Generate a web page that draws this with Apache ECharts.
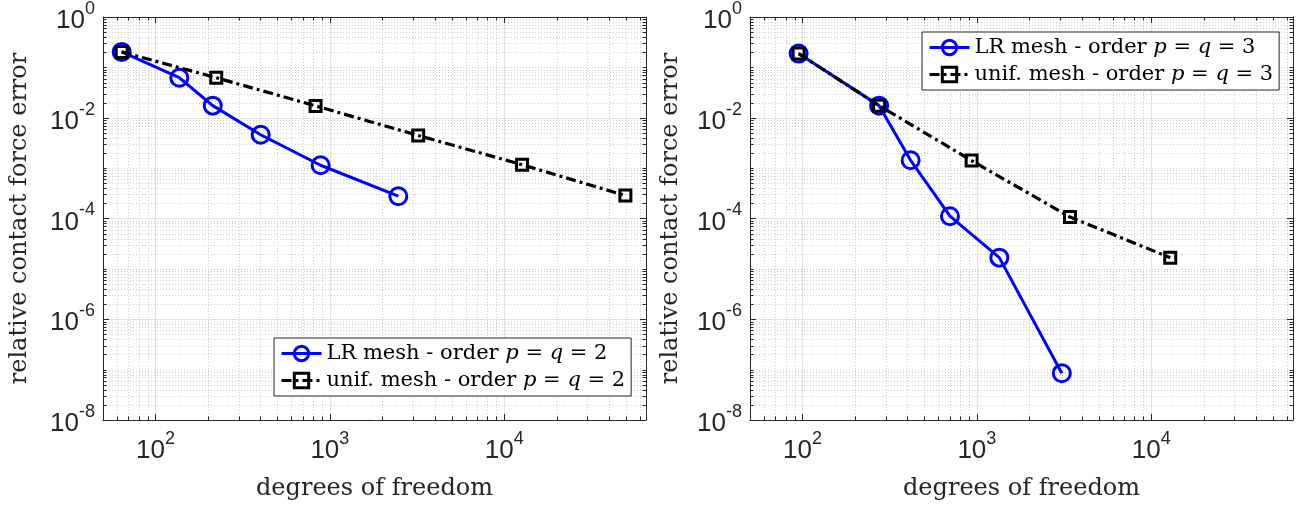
<!DOCTYPE html>
<html><head><meta charset="utf-8">
<script src="https://cdn.jsdelivr.net/npm/echarts@6/dist/echarts.min.js"></script>
<style>html,body{margin:0;padding:0;background:#fff}#c{width:1306px;height:508px}</style>
</head><body><div id="c"></div>
<script>
// ---------------- data ----------------
const lrP2Dof = [64, 137, 213, 401, 885, 2470];
const lrP2Err = [0.203, 0.0623, 0.0174, 0.00459, 0.00114, 2.77e-4];
const unP2Dof = [64, 223, 828, 3210, 12650, 49500];
const unP2Err = [0.203, 0.0623, 0.0172, 0.00445, 0.00117, 2.86e-4];
const lrP3Dof = [95, 275, 417, 701, 1345, 3070];
const lrP3Err = [0.188, 0.0174, 0.00143, 1.11e-4, 1.67e-5, 8.5e-8];
const unP3Dof = [95, 275, 933, 3420, 12850];
const unP3Err = [0.188, 0.0174, 0.00141, 1.07e-4, 1.67e-5];
const seriesNames = ['LR mesh - order p = q = 2', 'unif. mesh - order p = q = 2',
                     'LR mesh - order p = q = 3', 'unif. mesh - order p = q = 3'];
const xTitle = 'degrees of freedom';
const yTitle = 'relative contact force error';
const xMin = 50, xMax = 65000, yMin = 1e-8, yMax = 1;
const xMajor = [1e2, 1e3, 1e4];
const yMajor = [1e-8, 1e-6, 1e-4, 1e-2, 1];

// minor tick positions (decorations of the log axes)
const xMinor = [];
for (let e = 1; e <= 4; e++) for (let m = 2; m <= 9; m++) { const v = m * Math.pow(10, e); if (v > xMin && v < xMax) xMinor.push(v); }
const yMinor = [];
for (let e = -8; e < 0; e++) { for (let m = 2; m <= 9; m++) yMinor.push(m * Math.pow(10, e)); if ((e % 2) !== 0) yMinor.push(Math.pow(10, e)); }

const zip = (a, b) => a.map((v, i) => [v, b[i]]);
const AX = '#262626';
const SANS = 'Liberation Sans, Arial, Helvetica, sans-serif';
const SERIF = 'DejaVu Serif, serif';

function powLabel(v) {
  const e = Math.log10(v);
  const r = Math.round(e);
  if (Math.abs(e - r) > 1e-6) return '';
  return '{b|10}{s|' + r + '}';
}
const labelRich = {
  b: { fontFamily: SANS, fontSize: 26, color: AX, lineHeight: 34, verticalAlign: 'bottom' },
  s: { fontFamily: SANS, fontSize: 18, color: AX, lineHeight: 34, verticalAlign: 'top' }
};

function legendFmt(name) {
  const m = name.match(/^(.*order )p = q = (\d)$/);
  return '{n|' + m[1] + '}{i|p}{n| = }{i|q}{n| = ' + m[2] + '}';
}

function decor(params, api) {
  const cs = params.coordSys;
  const L = cs.x, T = cs.y, R = cs.x + cs.width, B = cs.y + cs.height;
  const ch = [];
  const ln = (x1, y1, x2, y2, st) => ch.push({ type: 'line', shape: { x1, y1, x2, y2 }, style: st, silent: true });
  const minorSt = { stroke: '#cfcfcf', lineWidth: 1, lineDash: [1, 2] };
  const tickSt = { stroke: AX, lineWidth: 1 };
  const px = v => Math.round(api.coord([v, yMax])[0]) + 0.5;
  const py = v => Math.round(api.coord([xMin, v])[1]) + 0.5;
  xMinor.forEach(v => { const x = px(v); ln(x, T, x, B, minorSt); });
  yMinor.forEach(v => { const y = py(v); ln(L, y, R, y, minorSt); });
  xMinor.forEach(v => { const x = px(v); ln(x, B, x, B - 3.5, tickSt); ln(x, T, x, T + 3.5, tickSt); });
  yMinor.forEach(v => { const y = py(v); ln(L, y, L + 3.5, y, tickSt); ln(R, y, R - 3.5, y, tickSt); });
  xMajor.forEach(v => { const x = px(v); ln(x, B, x, B - 6, tickSt); ln(x, T, x, T + 6, tickSt); });
  yMajor.forEach(v => { const y = py(v); ln(L, y, L + 6, y, tickSt); ln(R, y, R - 6, y, tickSt); });
  return { type: 'group', children: ch };
}

const grids = [
  { left: 103, top: 15, width: 543, height: 405 },
  { left: 750, top: 15, width: 543, height: 405 }
];
const xAxes = [], yAxes = [];
grids.forEach((g, gi) => {
  xAxes.push({
    type: 'log', logBase: 10, gridIndex: gi, min: xMin, max: xMax, position: 'bottom',
    name: xTitle, nameLocation: 'middle', nameGap: 57,
    nameTextStyle: { fontFamily: SERIF, fontSize: 24, color: AX },
    axisLine: { show: true, lineStyle: { color: AX, width: 1 } },
    axisTick: { show: false },
    axisLabel: { formatter: powLabel, rich: labelRich, margin: 10, showMinLabel: false, showMaxLabel: false, hideOverlap: false },
    splitLine: { show: true, lineStyle: { color: '#e2e2e2', width: 1 } },
    minorTick: { show: false }, minorSplitLine: { show: false }
  });
  xAxes.push({
    type: 'log', logBase: 10, gridIndex: gi, min: xMin, max: xMax, position: 'top',
    axisLine: { show: true, lineStyle: { color: AX, width: 1 } },
    axisTick: { show: false }, axisLabel: { show: false }, splitLine: { show: false }
  });
  yAxes.push({
    type: 'log', logBase: 10, gridIndex: gi, min: yMin, max: yMax, interval: 2, position: 'left',
    name: yTitle, nameLocation: 'middle', nameGap: gi === 0 ? 71 : 67, nameRotate: 90,
    nameTextStyle: { fontFamily: SERIF, fontSize: 24, color: AX },
    axisLine: { show: true, lineStyle: { color: AX, width: 1 } },
    axisTick: { show: false },
    axisLabel: { formatter: powLabel, rich: labelRich, margin: 8, hideOverlap: false },
    splitLine: { show: true, lineStyle: { color: '#e2e2e2', width: 1 } }
  });
  yAxes.push({
    type: 'log', logBase: 10, gridIndex: gi, min: yMin, max: yMax, interval: 2, position: 'right',
    axisLine: { show: true, lineStyle: { color: AX, width: 1 } },
    axisTick: { show: false }, axisLabel: { show: false }, splitLine: { show: false }
  });
});

function lrSeries(name, gi, dof, err) {
  return {
    name, type: 'line', xAxisIndex: gi * 2, yAxisIndex: gi * 2, data: zip(dof, err), z: 3,
    symbol: 'circle', symbolSize: 17, showAllSymbol: true,
    lineStyle: { color: '#0000ff', width: 3 },
    itemStyle: { color: 'rgba(255,255,255,0)', borderColor: '#0000ff', borderWidth: 3 },
    emphasis: { disabled: true }, animation: false
  };
}
function unSeries(name, gi, dof, err) {
  return {
    name, type: 'line', xAxisIndex: gi * 2, yAxisIndex: gi * 2, data: zip(dof, err), z: 4,
    symbol: 'rect', symbolSize: 11, showAllSymbol: true,
    lineStyle: { color: '#000000', width: 3.2, type: [10, 4, 3, 4] },
    itemStyle: { color: 'rgba(255,255,255,0)', borderColor: '#000000', borderWidth: 3 },
    emphasis: { disabled: true }, animation: false
  };
}

const legendBase = {
  orient: 'vertical', padding: [5, 6, 5, 6], itemGap: 6, itemWidth: 40, itemHeight: 18,
  backgroundColor: '#ffffff', borderColor: AX, borderWidth: 1, borderRadius: 0,
  formatter: legendFmt, selectedMode: false,
  lineStyle: { width: 3 },
  itemStyle: { borderWidth: 3 },
  textStyle: {
    rich: {
      n: { fontFamily: SERIF, fontSize: 21, color: '#000', lineHeight: 24 },
      i: { fontFamily: SERIF, fontStyle: 'italic', fontSize: 21, color: '#000', lineHeight: 24 }
    }
  }
};

const option = {
  animation: false,
  backgroundColor: '#ffffff',
  grid: grids.map(g => Object.assign({ show: false, containLabel: false }, g)),
  xAxis: xAxes,
  yAxis: yAxes,
  legend: [
    Object.assign({}, legendBase, { data: [seriesNames[0], seriesNames[1]], left: 274, top: 338 }),
    Object.assign({}, legendBase, { data: [seriesNames[2], seriesNames[3]], left: 922, top: 32 })
  ],
  series: [
    { type: 'custom', xAxisIndex: 0, yAxisIndex: 0, data: [[100, 1e-4]], renderItem: decor, z: 1, silent: true },
    { type: 'custom', xAxisIndex: 2, yAxisIndex: 2, data: [[100, 1e-4]], renderItem: decor, z: 1, silent: true },
    lrSeries(seriesNames[0], 0, lrP2Dof, lrP2Err),
    unSeries(seriesNames[1], 0, unP2Dof, unP2Err),
    lrSeries(seriesNames[2], 1, lrP3Dof, lrP3Err),
    unSeries(seriesNames[3], 1, unP3Dof, unP3Err)
  ]
};
const chart = echarts.init(document.getElementById('c'), null, { renderer: 'canvas' });
chart.setOption(option);
</script>
</body></html>
